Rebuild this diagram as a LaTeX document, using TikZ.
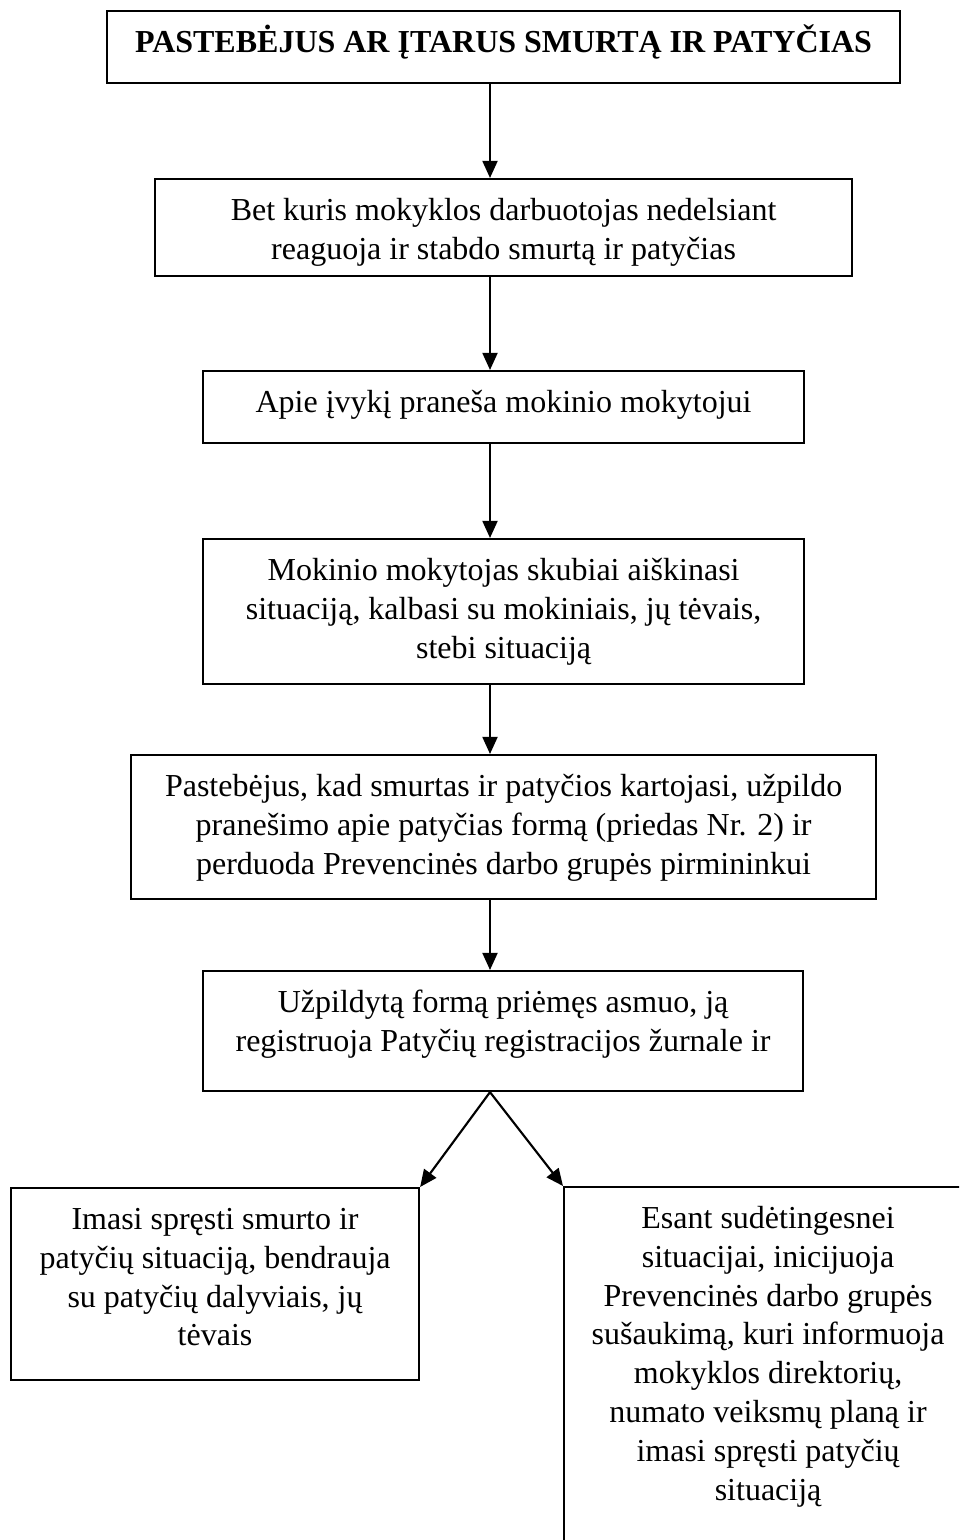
\documentclass[tikz,border=0pt]{standalone}
\usepackage{fontspec}
\setmainfont{Liberation Serif}
\usetikzlibrary{arrows.meta}
\tikzset{bx/.style={draw,inner sep=0pt,line width=0.8pt,anchor=north west}}
\tikzset{>={Triangle[length=6.4pt,width=5.6pt]}}
\newcommand{\flowtext}[3]{\parbox[t][#2][t]{#1}{\centering\rule{0pt}{15.4pt}#3}}

\begin{document}
\begin{tikzpicture}[x=0.375pt, y=-0.375pt, font=\fontsize{12pt}{14.6pt}\selectfont]
        \useasboundingbox (0,0) rectangle (959,1540);
        \clip (0,0) rectangle (959,1540);
        \node[bx] (Start) at (106,10) {\flowtext{297.4pt}{27pt}{\textbf{PASTEBĖJUS AR ĮTARUS SMURTĄ IR PATYČIAS}}};
        \node[bx] (React) at (154,178) {\flowtext{261.4pt}{36.4pt}{Bet kuris mokyklos darbuotojas nedelsiant\\ reaguoja ir stabdo smurtą ir patyčias}};
        \node[bx] (Inform) at (202,370) {\flowtext{225.4pt}{27pt}{Apie įvykį praneša mokinio mokytojui}};
        \node[bx] (Teacher) at (202,538) {\flowtext{225.4pt}{54.4pt}{Mokinio mokytojas skubiai aiškinasi\\ situaciją, kalbasi su mokiniais, jų tėvais,\\ stebi situaciją}};
        \node[bx] (Report) at (130,754) {\flowtext{279.4pt}{54pt}{Pastebėjus, kad smurtas ir patyčios kartojasi, užpildo\\ pranešimo apie patyčias formą (priedas Nr. 2) ir\\ perduoda Prevencinės darbo grupės pirmininkui}};
        \node[bx] (Register) at (202,970) {\flowtext{225pt}{45pt}{Užpildytą formą priėmęs asmuo, ją\\ registruoja Patyčių registracijos žurnale ir}};
        \node[bx] (Solve) at (10,1187) {\flowtext{153pt}{72pt}{Imasi spręsti smurto ir\\ patyčių situaciją, bendrauja\\ su patyčių dalyviais, jų\\ tėvais}};
        \node[bx] (Group) at (563,1186) {\flowtext{153pt}{150pt}{Esant sudėtingesnei\\ situacijai, inicijuoja\\ Prevencinės darbo grupės\\ sušaukimą, kuri informuoja\\ mokyklos direktorių,\\ numato veiksmų planą ir\\ imasi spręsti patyčių\\ situaciją}};
        \coordinate (ax) at (490,0);
        \draw[->,line width=0.8pt] (Start.south -| ax) -- (React.north -| ax);
        \draw[->,line width=0.8pt] (React.south -| ax) -- (Inform.north -| ax);
        \draw[->,line width=0.8pt] (Inform.south -| ax) -- (Teacher.north -| ax);
        \draw[->,line width=0.8pt] (Teacher.south -| ax) -- (Report.north -| ax);
        \draw[->,line width=0.8pt] (Report.south -| ax) -- (Register.north -| ax);
        \draw[->,line width=0.8pt] (Register.south -| ax) -- (Solve.north east);
        \draw[->,line width=0.8pt] (Register.south -| ax) -- (Group.north west);
    \end{tikzpicture}
\end{document}
